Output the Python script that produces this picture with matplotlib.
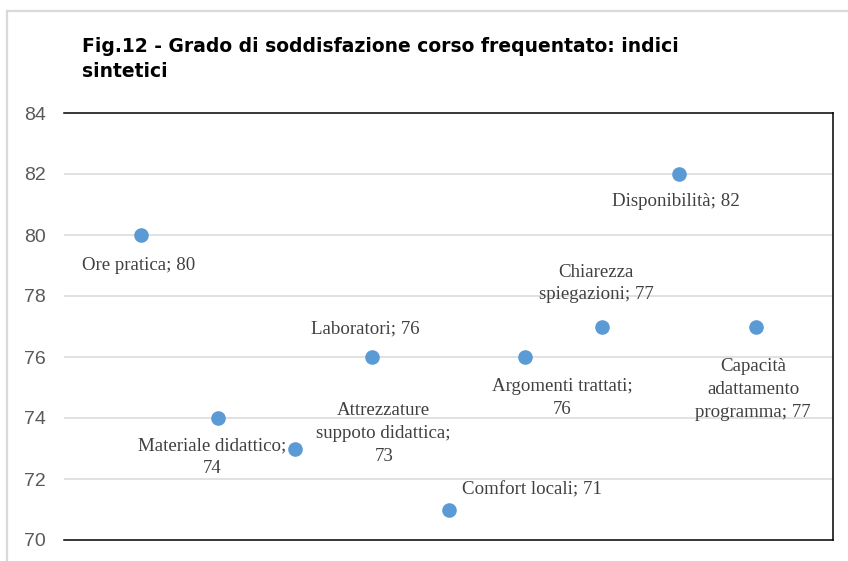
import matplotlib
matplotlib.use("Agg")
import matplotlib.pyplot as plt
from matplotlib.patches import Rectangle

categories = ["Ore pratica", "Materiale didattico", "Attrezzature\nsuppoto didattica",
              "Laboratori", "Comfort locali", "Argomenti trattati",
              "Chiarezza\nspiegazioni", "Disponibilità", "Capacità\nadattamento\nprogramma"]
values = [80, 74, 73, 76, 71, 76, 77, 82, 77]
label_texts = ["Ore pratica; 80", "Materiale didattico;\n74", "Attrezzature\nsuppoto didattica;\n73",
               "Laboratori; 76", "Comfort locali; 71", "Argomenti trattati;\n76",
               "Chiarezza\nspiegazioni; 77", "Disponibilità; 82", "Capacità\nadattamento\nprogramma; 77"]
yticks = [70, 72, 74, 76, 78, 80, 82, 84]
title = "Fig.12 - Grado di soddisfazione corso frequentato: indici\nsintetici"

# label offsets in pixels (dx right, dy down)
offsets_px = [(-2, 31), (-6, 39.5), (89, -15), (-6, -28), (84, -20),
              (37, 41), (-6, -43), (-3, 27), (-3, 63)]

W, H = 848, 561
fig = plt.figure(figsize=(W / 100, H / 100), dpi=100)

# outer chart border
fig.patches.append(Rectangle((7 / W, -0.1), 1.2, 1 - 11 / H + 0.1, transform=fig.transFigure,
                             fill=False, edgecolor="#d9d9d9", linewidth=1.6, zorder=0))

ax = fig.add_axes([64 / W, (H - 540) / H, 769 / W, 427 / H])
x = list(range(1, len(values) + 1))
ax.plot(x, values, linestyle="none", marker="o", markersize=9.5, color="#5b9bd5", zorder=3)

ax.set_xlim(0, 10)
ax.set_ylim(70, 84)
ax.set_xticks([])
ax.set_yticks(yticks)
ax.set_yticklabels([str(t) for t in yticks], fontsize=14, color="#595959",
                   family="Liberation Sans")
ax.tick_params(axis="y", length=0, pad=13)
for t in [72, 74, 76, 78, 80, 82]:
    ax.axhline(t, color="#d9d9d9", linewidth=1.1, zorder=1)
for s in ["top", "right", "bottom"]:
    ax.spines[s].set_color("black")
    ax.spines[s].set_linewidth(1.1)
ax.spines["left"].set_visible(False)

for xi, yi, txt, (dx, dy) in zip(x, values, label_texts, offsets_px):
    ax.annotate(txt, (xi, yi), xytext=(dx * 0.72, -dy * 0.72), textcoords="offset points",
                ha="center", va="center", fontsize=13.6, family="Liberation Serif",
                color="#404040", linespacing=1.45, zorder=4)

fig.text(82 / W, 1 - 37 / H, title, ha="left", va="top", fontsize=13.5,
         fontweight="bold", family="DejaVu Sans", color="black", linespacing=1.42)

fig.savefig("out.png", dpi=100)
